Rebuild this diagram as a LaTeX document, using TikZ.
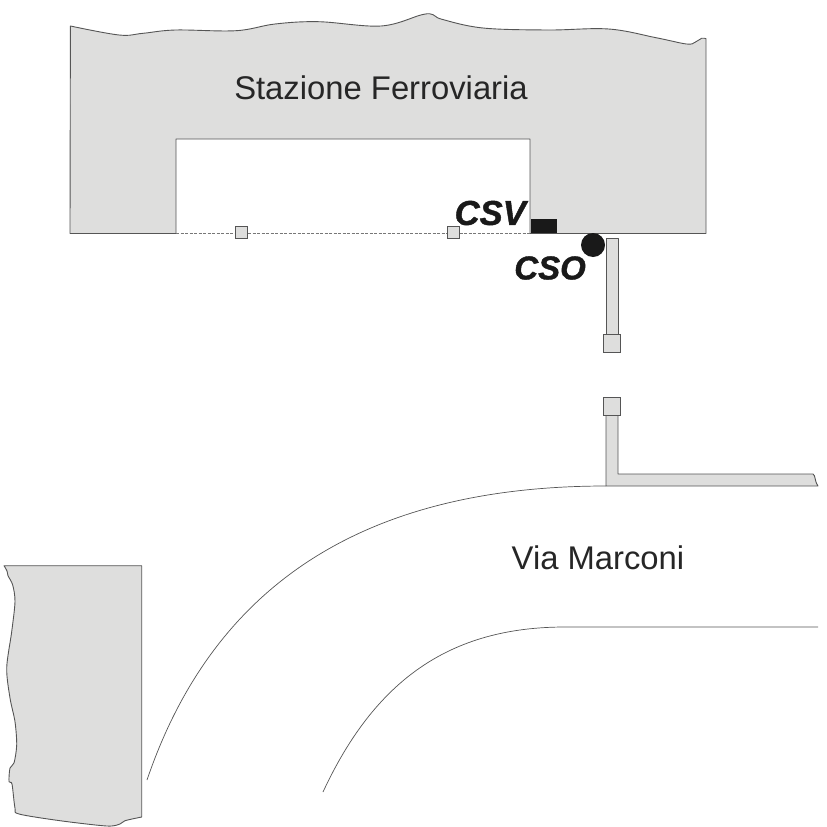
\documentclass[tikz,border=0pt]{standalone}
\usepackage{fontspec}
\setmainfont{Liberation Sans}
\newfontfamily\devicefont[ItalicFeatures={FakeBold=1.2}, BoldItalicFeatures={FakeBold=1.2}]{Liberation Sans}
\definecolor{wallfill}{HTML}{DEDEDD}
\definecolor{wallline}{HTML}{555555}
\tikzset{
    wall/.style={draw=wallline, fill=wallfill, line width=0.9pt, line join=round},
    road/.style={draw=wallline, line width=0.7pt},
    post/.style={draw=wallline, fill=wallfill, line width=0.8pt, minimum size=12pt, inner sep=0pt},
    bigpost/.style={post, minimum width=17pt, minimum height=18pt},
    place/.style={font=\fontsize{32.8}{36}\selectfont, text=black!85, inner sep=0pt},
    device/.style={font=\devicefont\fontsize{34.6}{36}\selectfont\bfseries\itshape, text=black!90, inner sep=0pt}
}
\begin{document}
\begin{tikzpicture}[x=1pt, y=-1pt]
    \useasboundingbox (0,0) rectangle (827,827);

    % Station building with its courtyard
    \draw[wall] (70,233.5) -- (70.4,26)
        -- plot[smooth, tension=0.6] coordinates {(70.4,26) (119,35) (143,33.3) (175.6,30) (236,30.7) (275,24) (318.5,21.7) (381,26) (422,14.7) (433,14.7) (442,19.3) (483,28) (548,30) (608.6,29) (656,37.7) (686.5,44) (695,42.3) (701.6,38.3) (706,38.7)}
        -- (706,233.5) -- (530,233.5) -- (530,139) -- (176,139) -- (176,233.5) -- cycle;
    \draw[white, line width=1.4pt] (176.6,233.5) -- (529.4,233.5);
    \draw[road, dashed, dash pattern=on 3pt off 1.5pt, line width=0.5pt, draw=wallline!80] (176,233.5) -- (530,233.5);

    % Building on the left
    \draw[wall] (4,565.7) -- (141.7,565.7) -- (141.7,817)
        -- plot[smooth, tension=0.5] coordinates {(141.7,817) (125,820.7) (120,824) (106.7,826) (60,820.7) (19,814) (15,808) (12,784) (9,781.7) (10,768) (14,763) (16.7,745) (15,721.7) (10,698) (6.7,668) (11.7,631.7) (15,601.7) (12.7,585) (8,575.7) (7,571) (4,565.7)}
        -- cycle;

    % Road edges
    \draw[road] (147,780) .. controls (215,580) and (370,486) .. (606,486);
    \draw[road] (323,792) .. controls (375,680) and (450,627) .. (565,627) -- (818,627);

    % Barrier arms and their posts
    \draw[wall] (606,238) rectangle (618,343);
    \draw[wall] (606,406) -- (618,406) -- (618,474) -- (813,474)
        .. controls (816,476) and (814,480) .. (818,486) -- (606,486) -- cycle;

    \node[post] (postA) at (241,232.5) {};
    \node[post] (postB) at (453,232.5) {};
    \node[bigpost] (postC) at (611.5,343) {};
    \node[bigpost] (postD) at (612,406) {};

    % Sensors
    \fill[black!90] (530.5,219) rectangle (557,233);
    \fill[black!90] (593,245) circle (12);

    % Labels
    \node[place] (station) at (381,87.5) {Stazione Ferroviaria};
    \node[place] (street) at (598,558) {Via Marconi};
    \node[device, anchor=east] (csv) at (526,213) {CSV};
    \node[device, anchor=east, font=\devicefont\fontsize{33}{36}\selectfont\bfseries\itshape] (cso) at (586,268) {CSO};
\end{tikzpicture}
\end{document}
